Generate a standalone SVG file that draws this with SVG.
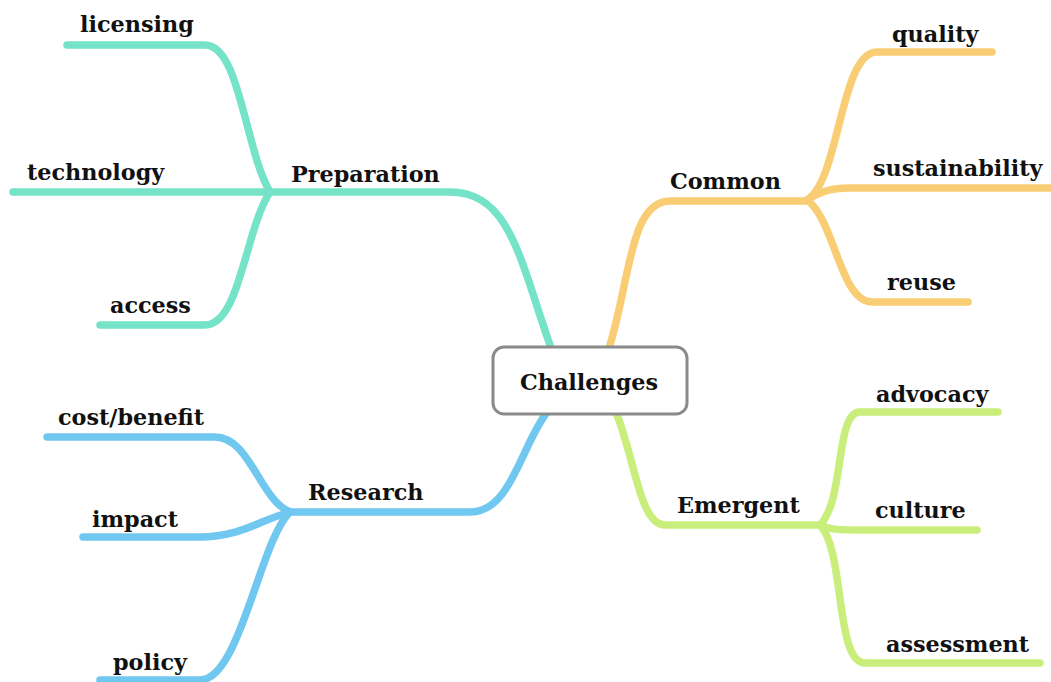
<svg xmlns="http://www.w3.org/2000/svg" width="1051" height="682" viewBox="0 0 1051 682">
<style>
.l{fill:none;stroke-width:7.5;stroke-linecap:round;stroke-linejoin:round}
.t{stroke:#74e3c8}.o{stroke:#f8cd74}.b{stroke:#70c8f0}.g{stroke:#c9ee7c}
text{font-family:"DejaVu Serif","Liberation Serif",serif;font-weight:bold;font-size:22.3px;fill:#111}
</style>
<rect width="1051" height="682" fill="#fff"/>
<g id="connectors">
<path class="l t" d="M550,345 C520,260 510,192 450,192 H270"/>
<path class="l t" d="M270,192 C245,150 240,45 205,45 H67"/>
<path class="l t" d="M270,192 H13"/>
<path class="l t" d="M270,192 C245,230 240,325 205,325 H100"/>
<path class="l o" d="M610,345 C630,280 630,201 670,201 H807"/>
<path class="l o" d="M807,200 C840,180 840,52 877,52 H992"/>
<path class="l o" d="M807,200 C820,192 830,188 850,188 H1051"/>
<path class="l o" d="M807,200 C835,220 840,302 872,302 H968"/>
<path class="l b" d="M545,415 C520,450 510,512 470,512 H290"/>
<path class="l b" d="M290,512 C260,500 250,437 215,437 H47"/>
<path class="l b" d="M290,512 C260,520 240,537 200,537 H83"/>
<path class="l b" d="M290,512 C260,540 240,680 200,680 H100"/>
<path class="l g" d="M617,415 C635,460 640,525 665,525 H820"/>
<path class="l g" d="M820,525 C845,500 835,412 860,412 H998"/>
<path class="l g" d="M820,525 C830,530 840,530 860,530 H977"/>
<path class="l g" d="M820,525 C845,550 835,663 865,663 H1040"/>
</g>
<g id="challenges"><rect x="493" y="347" width="194" height="67" rx="11" fill="#fff" stroke="#8a8a8a" stroke-width="3"/><text x="589" y="390" text-anchor="middle">Challenges</text></g>
<g id="preparation"><text x="291" y="182">Preparation</text></g>
<g id="licensing"><text x="80" y="32">licensing</text></g>
<g id="technology"><text x="27" y="180">technology</text></g>
<g id="access"><text x="110" y="313">access</text></g>
<g id="common"><text x="670" y="189">Common</text></g>
<g id="quality"><text x="892" y="42">quality</text></g>
<g id="sustainability"><text x="873" y="176">sustainability</text></g>
<g id="reuse"><text x="887" y="290">reuse</text></g>
<g id="research"><text x="308" y="500">Research</text></g>
<g id="costbenefit"><text x="58" y="425">cost/benefit</text></g>
<g id="impact"><text x="92" y="527">impact</text></g>
<g id="policy"><text x="113" y="670">policy</text></g>
<g id="emergent"><text x="677" y="513">Emergent</text></g>
<g id="advocacy"><text x="876" y="402">advocacy</text></g>
<g id="culture"><text x="875" y="518">culture</text></g>
<g id="assessment"><text x="886" y="652">assessment</text></g>
</svg>
